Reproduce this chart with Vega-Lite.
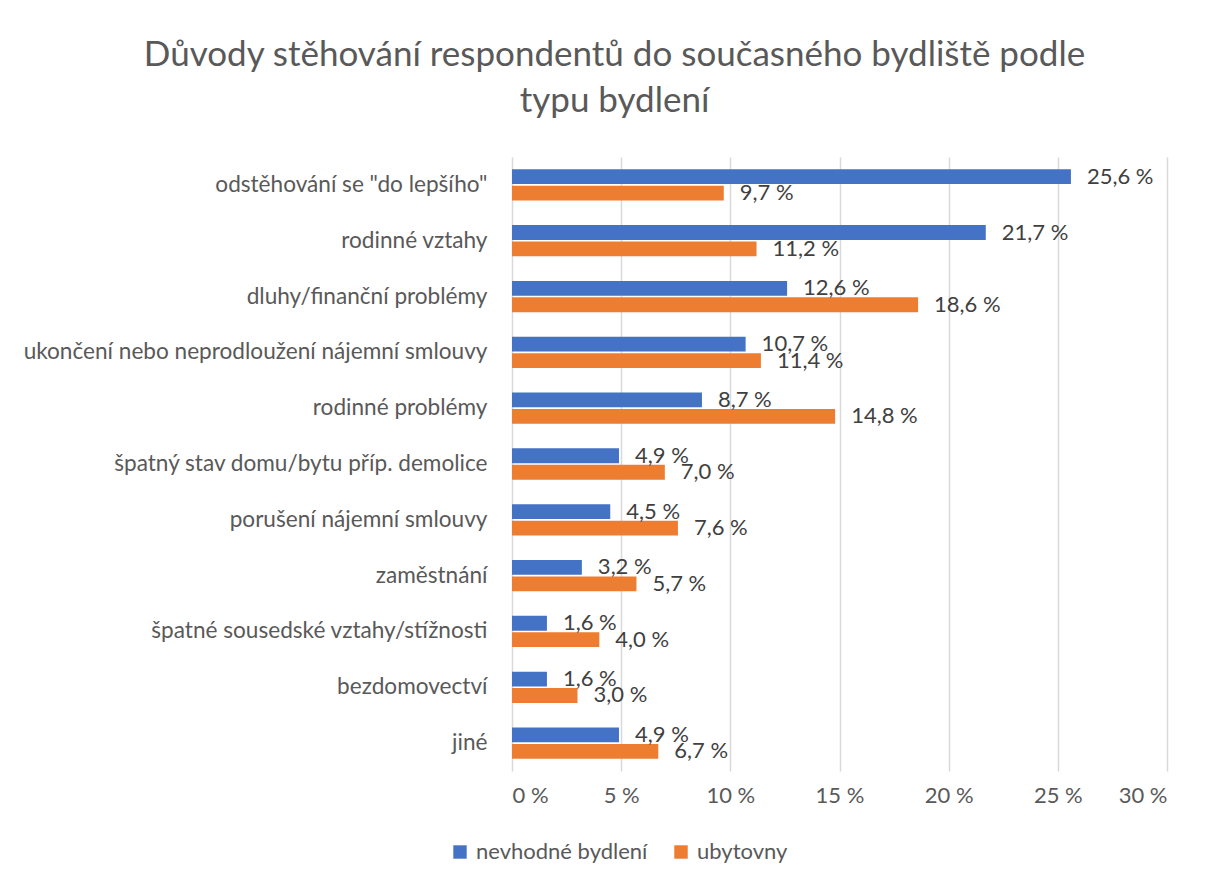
{
  "$schema": "https://vega.github.io/schema/vega-lite/v6.json",
  "width": 655,
  "height": 614,
  "autosize": {"type": "none"},
  "padding": {"left": 512, "top": 157, "right": 39, "bottom": 113},
  "background": "white",
  "title": {
    "text": ["Důvody stěhování respondentů do současného bydliště podle", "typu bydlení"],
    "frame": "group",
    "anchor": "middle",
    "dx": -225,
    "offset": 38,
    "font": "Lato",
    "fontSize": 35,
    "fontWeight": "normal",
    "color": "#595959",
    "lineHeight": 46
  },
  "data": {
    "values": [
      {"duvod": "odstěhování se \"do lepšího\"", "typ": "nevhodné bydlení", "hodnota": 25.6},
      {"duvod": "odstěhování se \"do lepšího\"", "typ": "ubytovny", "hodnota": 9.7},
      {"duvod": "rodinné vztahy", "typ": "nevhodné bydlení", "hodnota": 21.7},
      {"duvod": "rodinné vztahy", "typ": "ubytovny", "hodnota": 11.2},
      {"duvod": "dluhy/finanční problémy", "typ": "nevhodné bydlení", "hodnota": 12.6},
      {"duvod": "dluhy/finanční problémy", "typ": "ubytovny", "hodnota": 18.6},
      {"duvod": "ukončení nebo neprodloužení nájemní smlouvy", "typ": "nevhodné bydlení", "hodnota": 10.7},
      {"duvod": "ukončení nebo neprodloužení nájemní smlouvy", "typ": "ubytovny", "hodnota": 11.4},
      {"duvod": "rodinné problémy", "typ": "nevhodné bydlení", "hodnota": 8.7},
      {"duvod": "rodinné problémy", "typ": "ubytovny", "hodnota": 14.8},
      {"duvod": "špatný stav domu/bytu příp. demolice", "typ": "nevhodné bydlení", "hodnota": 4.9},
      {"duvod": "špatný stav domu/bytu příp. demolice", "typ": "ubytovny", "hodnota": 7.0},
      {"duvod": "porušení nájemní smlouvy", "typ": "nevhodné bydlení", "hodnota": 4.5},
      {"duvod": "porušení nájemní smlouvy", "typ": "ubytovny", "hodnota": 7.6},
      {"duvod": "zaměstnání", "typ": "nevhodné bydlení", "hodnota": 3.2},
      {"duvod": "zaměstnání", "typ": "ubytovny", "hodnota": 5.7},
      {"duvod": "špatné sousedské vztahy/stížnosti", "typ": "nevhodné bydlení", "hodnota": 1.6},
      {"duvod": "špatné sousedské vztahy/stížnosti", "typ": "ubytovny", "hodnota": 4.0},
      {"duvod": "bezdomovectví", "typ": "nevhodné bydlení", "hodnota": 1.6},
      {"duvod": "bezdomovectví", "typ": "ubytovny", "hodnota": 3.0},
      {"duvod": "jiné", "typ": "nevhodné bydlení", "hodnota": 4.9},
      {"duvod": "jiné", "typ": "ubytovny", "hodnota": 6.7}
    ]
  },
  "transform": [
    {"calculate": "replace(format(datum.hodnota, '.1f'), '.', ',') + ' %'", "as": "popisek"}
  ],
  "encoding": {
    "y": {
      "field": "duvod",
      "type": "nominal",
      "sort": null,
      "scale": {"paddingInner": 0.44, "paddingOuter": 0.22},
      "axis": {
        "title": null,
        "domain": false,
        "ticks": false,
        "grid": false,
        "labelPadding": 25,
        "labelFont": "Lato",
        "labelFontSize": 22.6,
        "labelColor": "#595959",
        "labelLimit": 600
      }
    },
    "yOffset": {
      "field": "typ",
      "type": "nominal",
      "scale": {"paddingInner": 0.1, "paddingOuter": 0}
    },
    "x": {
      "field": "hodnota",
      "type": "quantitative",
      "scale": {"domain": [0, 30], "nice": false},
      "axis": {
        "title": null,
        "values": [0, 5, 10, 15, 20, 25, 30],
        "labelExpr": "datum.value + ' %'",
        "domain": false,
        "ticks": false,
        "grid": true,
        "gridColor": "#D9D9D9",
        "gridWidth": 1.5,
        "labelPadding": 14,
        "labelFont": "Lato",
        "labelFontSize": 22,
        "labelColor": "#595959"
      }
    }
  },
  "layer": [
    {
      "mark": {"type": "bar"},
      "encoding": {
        "color": {
          "field": "typ",
          "type": "nominal",
          "scale": {"domain": ["nevhodné bydlení", "ubytovny"], "range": ["#4472C4", "#ED7D31"]},
          "legend": {
            "title": null,
            "orient": "none",
            "direction": "horizontal",
            "legendX": -63,
            "legendY": 684,
            "symbolType": "square",
            "symbolSize": 180,
            "symbolOpacity": 1,
            "labelFont": "Lato",
            "labelFontSize": 22,
            "labelColor": "#595959",
            "labelLimit": 400,
            "columnPadding": 22,
            "symbolOffset": 0,
            "labelOffset": 5
          }
        }
      }
    },
    {
      "mark": {"type": "text", "align": "left", "baseline": "middle", "dx": 16, "font": "Lato", "fontSize": 22, "color": "#404040"},
      "encoding": {"text": {"field": "popisek"}}
    }
  ],
  "config": {
    "view": {"stroke": null}
  }
}
